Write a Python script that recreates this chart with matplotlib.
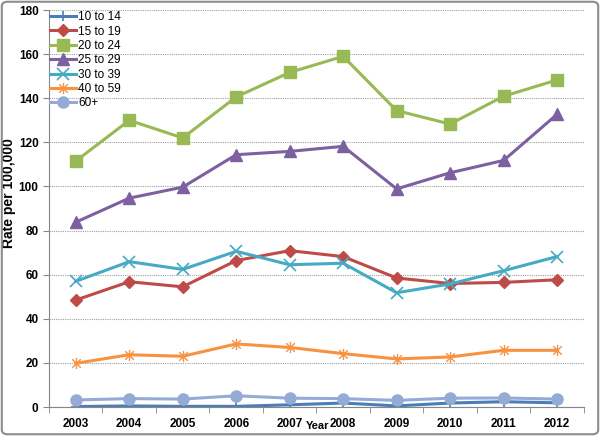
import numpy as np
import matplotlib
matplotlib.use('Agg')
import matplotlib.pyplot as plt
from matplotlib.path import Path
from matplotlib.patches import FancyBboxPatch

plt.rcParams['font.family'] = ['Liberation Sans', 'DejaVu Sans']

years = ['2003', '2004', '2005', '2006', '2007', '2008', '2009', '2010', '2011', '2012']

age_10_14 = [0.2, 0.5, 0.3, 0.3, 1.0, 1.8, 0.5, 1.8, 2.4, 1.9]
age_15_19 = [48.5, 56.8, 54.5, 66.4, 70.9, 68.2, 58.5, 56.0, 56.5, 57.7]
age_20_24 = [111.5, 130.0, 122.0, 140.6, 151.7, 159.0, 134.4, 128.3, 140.9, 148.3]
age_25_29 = [83.8, 94.7, 99.7, 114.4, 115.9, 118.2, 98.9, 106.2, 111.8, 132.7]
age_30_39 = [57.0, 65.9, 62.4, 70.6, 64.5, 65.2, 51.8, 55.8, 61.8, 68.2]
age_40_59 = [19.8, 23.7, 23.0, 28.6, 27.0, 24.2, 21.8, 22.7, 25.7, 25.7]
age_60_up = [3.2, 3.8, 3.6, 5.1, 4.0, 3.8, 3.0, 4.0, 4.1, 3.6]

labels = ['10 to 14', '15 to 19', '20 to 24', '25 to 29', '30 to 39', '40 to 59', '60+']

# excel-style asterisk: x plus a vertical stroke
star_path = Path([(-1, -1), (1, 1), (-1, 1), (1, -1), (0, -1.3), (0, 1.3)],
                 [Path.MOVETO, Path.LINETO, Path.MOVETO, Path.LINETO,
                  Path.MOVETO, Path.LINETO])

styles = [
    dict(color='#4A7EBB', marker='+', ms=7, mew=1.2),
    dict(color='#BE4B48', marker='D', ms=6),
    dict(color='#98B954', marker='s', ms=8),
    dict(color='#7D60A0', marker='^', ms=8),
    dict(color='#46AAC5', marker='x', ms=8, mew=1.2),
    dict(color='#F69240', marker=star_path, ms=8, mew=1.0),
    dict(color='#94ABD6', marker='o', ms=8),
]
series = [age_10_14, age_15_19, age_20_24, age_25_29, age_30_39, age_40_59, age_60_up]

fig = plt.figure(figsize=(6.0, 4.36), dpi=100)
ax = fig.add_axes([0.0817, 0.0665, 0.8913, 0.9105])

x = np.arange(len(years))
for vals, lab, st in zip(series, labels, styles):
    ax.plot(x, vals, lw=2.2, label=lab, markeredgecolor=st['color'],
            solid_joinstyle='round', **st)

ax.set_xlim(-0.5, len(years) - 0.5)
ax.set_ylim(0, 180)
ax.set_yticks(range(0, 181, 20))
ax.set_xticks(x)
ax.set_xticklabels(years)
ax.set_xticks(np.arange(-0.5, len(years), 1.0), minor=True)
ax.tick_params(axis='x', which='major', length=0, pad=8)
ax.tick_params(axis='x', which='minor', length=4, color='#868686')
ax.tick_params(axis='y', length=4, color='#868686')
for lbl in ax.get_xticklabels() + ax.get_yticklabels():
    lbl.set_fontweight('bold')
    lbl.set_fontsize(8.5)

ax.yaxis.grid(True, color='#A0A0A0', linestyle=(0, (1, 1)), linewidth=0.8)
ax.set_axisbelow(True)
for side in ['top', 'right']:
    ax.spines[side].set_visible(False)
for side in ['left', 'bottom']:
    ax.spines[side].set_color('#868686')

ax.set_ylabel('Rate per 100,000', fontsize=10, fontweight='bold')
ax.yaxis.set_label_coords(-0.062, 0.54)
fig.text(0.529, 0.023, 'Year', fontsize=8, fontweight='bold', ha='center', va='center')

leg = ax.legend(loc='upper left', frameon=False, fontsize=8.5, handlelength=2.2,
                handletextpad=0.15, labelspacing=0.2, borderaxespad=0.0, borderpad=0.1,
                bbox_to_anchor=(0.0, 1.0))

border = FancyBboxPatch((0.003, 0.004), 0.994, 0.992, boxstyle='round,pad=0,rounding_size=0.01',
                        transform=fig.transFigure, fill=False, edgecolor='#8C8C8C', lw=1.5)
fig.patches.append(border)

fig.savefig('out.png', dpi=100)
